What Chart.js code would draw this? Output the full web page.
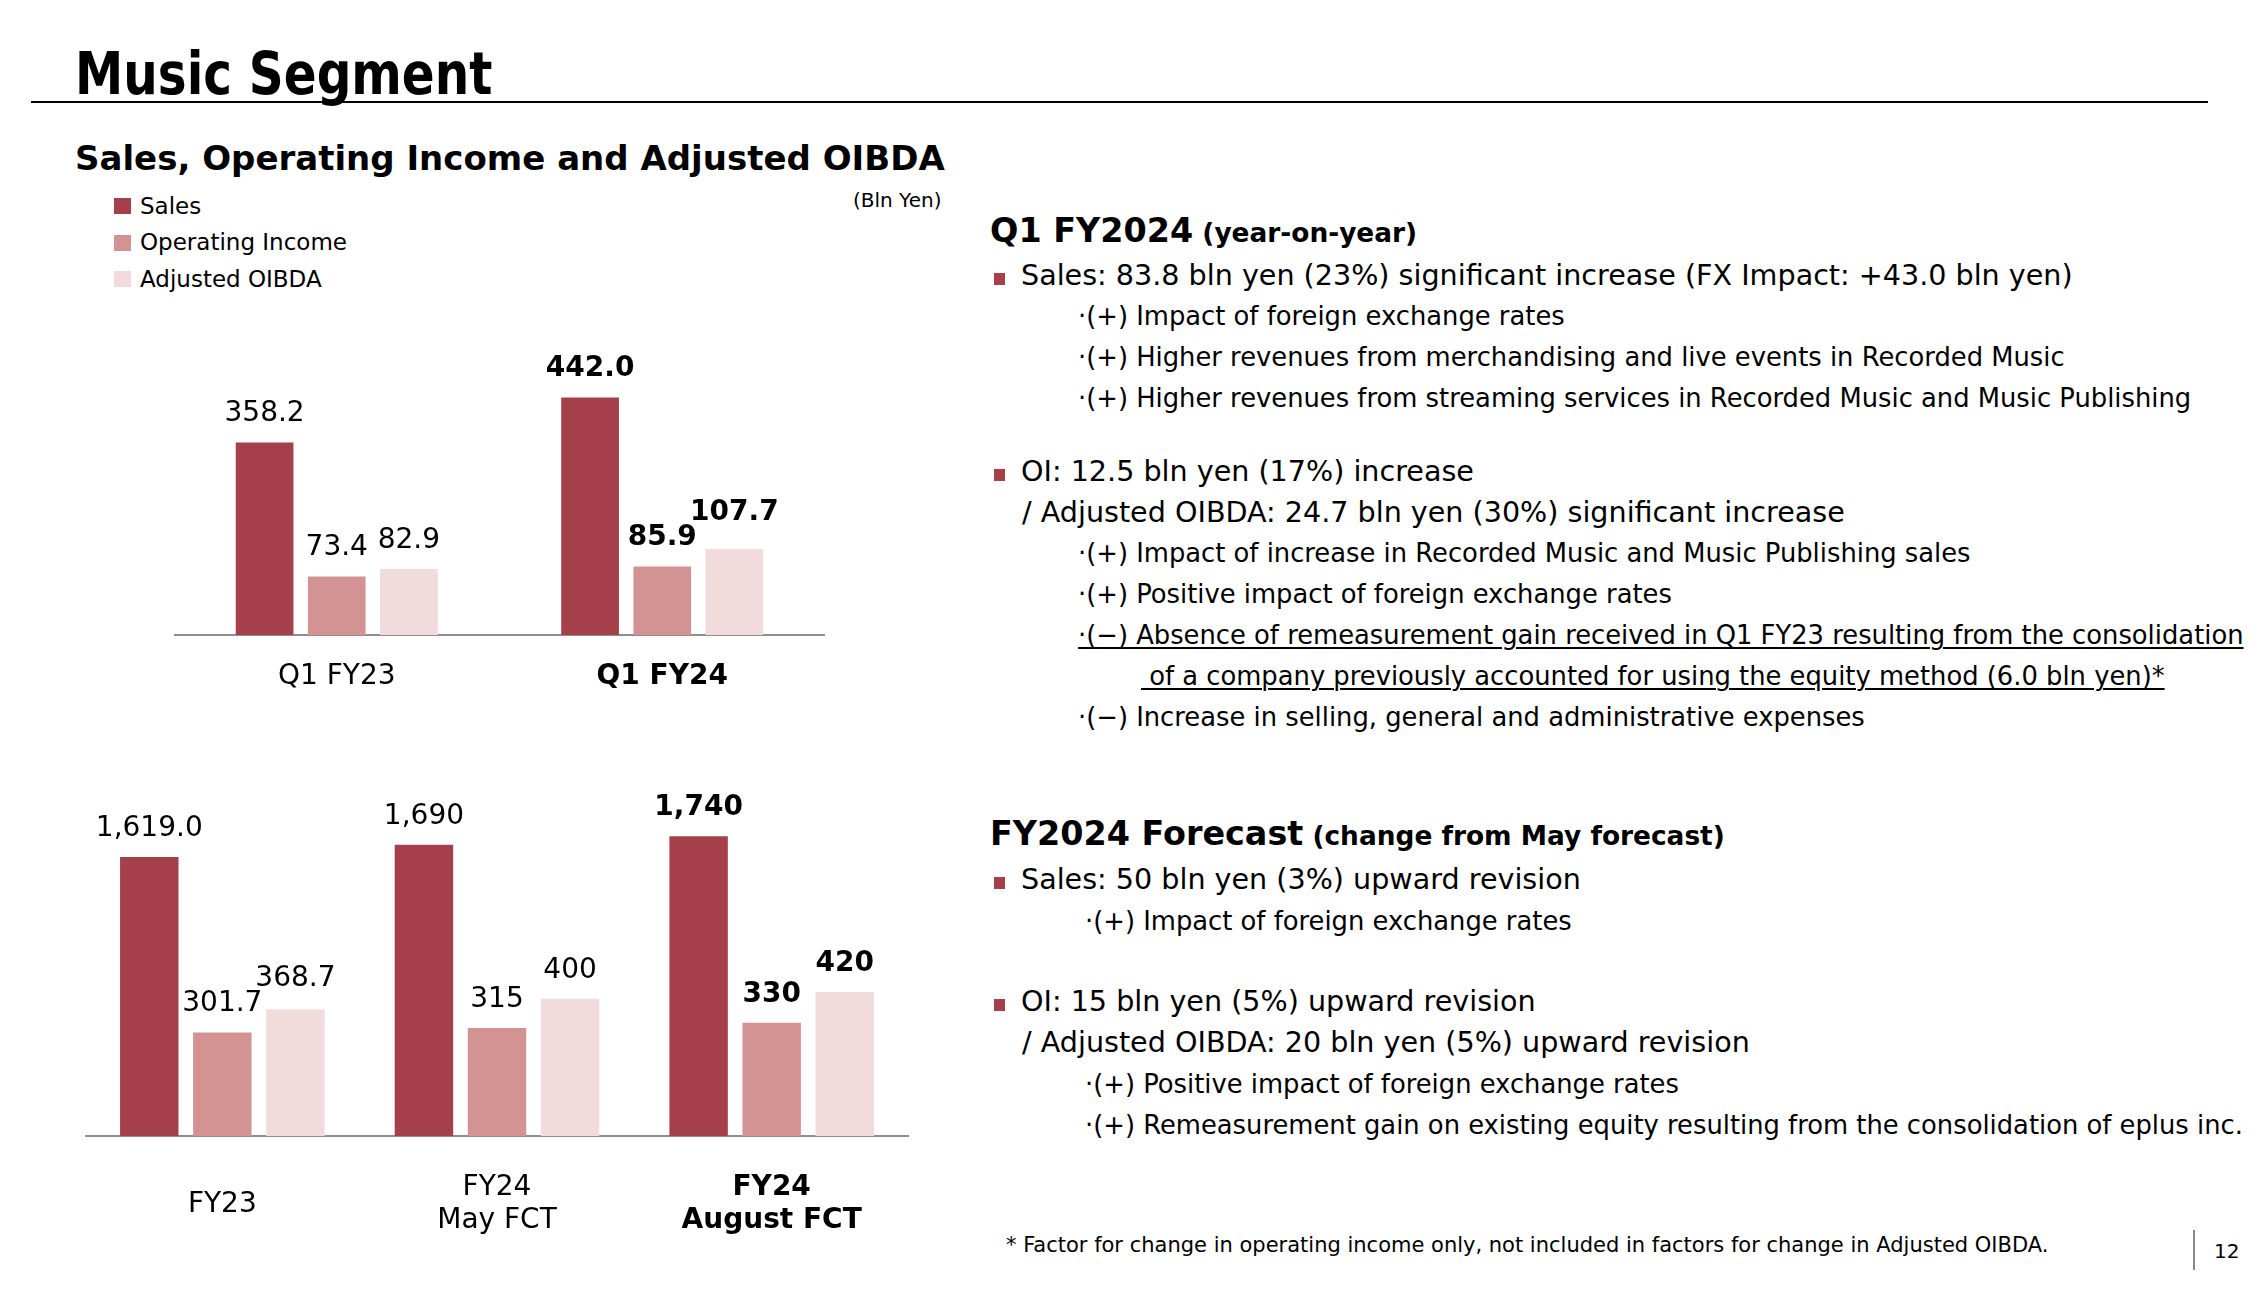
<!DOCTYPE html>
<html>
<head>
<meta charset="utf-8">
<script src="https://cdn.jsdelivr.net/npm/chart.js@4.4.0/dist/chart.umd.min.js"></script>
<style>
  html, body { margin: 0; padding: 0; background: #fff; }
  body { width: 2268px; height: 1292px; position: relative; overflow: hidden; font-family: "DejaVu Sans", sans-serif; color: #000; }
  .txt { position: absolute; white-space: pre; }
  .box { position: absolute; }
  .sq { position: absolute; }
</style>
</head>
<body>
<div class="box" id="box1" style="left:174px; top:320px; width:651px; height:420px;"><canvas id="quarterChart"></canvas></div>
<div class="box" id="box2" style="left:85px; top:760px; width:824px; height:506px;"><canvas id="yearChart"></canvas></div>
<script>
  // series
  const seriesNames = ["Sales", "Operating Income", "Adjusted OIBDA"];
  const seriesColors = ["#A5404A", "#D49393", "#F2DBDC"];

  // Q1 comparison (bln yen)
  const quarterLabels = ["Q1 FY23", "Q1 FY24"];
  const quarterSales = [358.2, 442.0];
  const quarterOI = [73.4, 85.9];
  const quarterOIBDA = [82.9, 107.7];

  // full year (bln yen)
  const yearLabels = ["FY23", ["FY24", "May FCT"], ["FY24", "August FCT"]];
  const yearSales = [1619.0, 1690, 1740];
  const yearOI = [301.7, 315, 330];
  const yearOIBDA = [368.7, 400, 420];
  const yearDecimals = [1, 0, 0];

  const FONT = '"DejaVu Sans", sans-serif';

  function put(html, x, base, size, extra) {
    const d = document.createElement("div");
    d.className = "txt";
    d.innerHTML = html;
    d.style.left = x + "px";
    d.style.top = (base - 0.846 * size) + "px";
    d.style.fontSize = size + "px";
    d.style.lineHeight = size + "px";
    if (extra) Object.assign(d.style, extra);
    document.body.appendChild(d);
    return d;
  }
  function block(x, y, w, h, color) {
    const d = document.createElement("div");
    d.className = "sq";
    Object.assign(d.style, { left: x + "px", top: y + "px", width: w + "px", height: h + "px", background: color });
    document.body.appendChild(d);
  }

  // header
  put("Music Segment", 75, 94, 58, {
    fontFamily: '"DejaVu Sans Condensed", "DejaVu Sans"', fontStretch: "condensed", fontWeight: "bold",
    transform: "scaleX(0.929)", transformOrigin: "0 0"
  });
  block(31, 101, 2177, 2, "#000");
  put("Sales, Operating Income and Adjusted OIBDA", 75, 170, 34, { fontWeight: "bold" });
  put("(Bln Yen)", 853, 207, 20);

  // legend
  seriesNames.forEach((name, i) => {
    const base = 214 + i * 36.5;
    block(114, base - 16, 17, 16, seriesColors[i]);
    put(name, 140, base, 23);
  });

  // right hand comments: h = heading, b = bullet, p = plain, s = sub point, u = underlined sub point
  const mainSize = 28.6;
  const subSize = 25.8;
  const lines = [
    ["h", 990, 242, "Q1 FY2024", " (year-on-year)"],
    ["b", 1021, 285, "Sales: 83.8 bln yen (23%) significant increase (FX Impact: +43.0 bln yen)"],
    ["s", 1078, 326, "·(+) Impact of foreign exchange rates"],
    ["s", 1078, 367, "·(+) Higher revenues from merchandising and live events in Recorded Music"],
    ["s", 1078, 408, "·(+) Higher revenues from streaming services in Recorded Music and Music Publishing"],
    ["b", 1021, 481, "OI: 12.5 bln yen (17%) increase"],
    ["p", 1022, 522, "/ Adjusted OIBDA: 24.7 bln yen (30%) significant increase"],
    ["s", 1078, 563, "·(+) Impact of increase in Recorded Music and Music Publishing sales"],
    ["s", 1078, 604, "·(+) Positive impact of foreign exchange rates"],
    ["u", 1078, 645, "·(−) Absence of remeasurement gain received in Q1 FY23 resulting from the consolidation"],
    ["u", 1141, 686, " of a company previously accounted for using the equity method (6.0 bln yen)*"],
    ["s", 1078, 727, "·(−) Increase in selling, general and administrative expenses"],
    ["h", 990, 845, "FY2024 Forecast", " (change from May forecast)"],
    ["b", 1021, 889, "Sales: 50 bln yen (3%) upward revision"],
    ["s", 1085, 931, "·(+) Impact of foreign exchange rates"],
    ["b", 1021, 1011, "OI: 15 bln yen (5%) upward revision"],
    ["p", 1022, 1052, "/ Adjusted OIBDA: 20 bln yen (5%) upward revision"],
    ["s", 1085, 1094, "·(+) Positive impact of foreign exchange rates"],
    ["s", 1085, 1135, "·(+) Remeasurement gain on existing equity resulting from the consolidation of eplus inc."]
  ];
  lines.forEach(([kind, x, base, text, small]) => {
    if (kind === "h") {
      put(text + '<span style="font-size:26.4px">' + small + "</span>", x, base, 33.4, { fontWeight: "bold" });
      return;
    }
    const d = put(text, x, base, kind === "b" || kind === "p" ? mainSize : subSize);
    if (kind === "b") block(994, base - 12, 11, 12, seriesColors[0]);
    if (kind === "u") {
      d.style.textDecoration = "underline";
      d.style.textDecorationThickness = "2px";
      d.style.textUnderlineOffset = "3px";
    }
  });
  put("* Factor for change in operating income only, not included in factors for change in Adjusted OIBDA.", 1006, 1253, 21);
  block(2193, 1230, 2, 40, "#888");
  put("12", 2214, 1258, 20);

  // value labels drawn over the bars; a label that would collide with its
  // left neighbour in the same group is lifted just above it
  function valueLabels(format) {
    return {
      id: "valueLabels",
      afterDatasetsDraw(chart) {
        const { ctx } = chart;
        const last = chart.data.labels.length - 1;
        const textH = 21;
        ctx.save();
        ctx.textAlign = "center";
        ctx.textBaseline = "alphabetic";
        ctx.fillStyle = "#000";
        chart.data.labels.forEach((_, j) => {
          let prev = null;
          chart.data.datasets.forEach((ds, i) => {
            const bar = chart.getDatasetMeta(i).data[j];
            const text = format(ds.data[j], j);
            ctx.font = (j === last ? "bold " : "") + "28px " + FONT;
            const w = ctx.measureText(text).width;
            let y = bar.y - 21;
            if (prev && bar.x - w / 2 < prev.right && y > prev.top - 4 && y - textH < prev.base) {
              y = prev.top - 4;
            }
            ctx.fillText(text, bar.x, y);
            prev = { right: bar.x + w / 2, top: y - textH, base: y };
          });
        });
        ctx.restore();
      }
    };
  }

  function makeChart(id, labels, sales, oi, oibda, cfg) {
    const last = labels.length - 1;
    const sets = [sales, oi, oibda].map((data, i) => ({
      label: seriesNames[i],
      data,
      backgroundColor: seriesColors[i],
      yAxisID: i === 0 ? "y" : "y2",
      barPercentage: 0.8,
      categoryPercentage: cfg.catPct
    }));
    return new Chart(document.getElementById(id), {
      type: "bar",
      data: { labels, datasets: sets },
      options: {
        responsive: true,
        maintainAspectRatio: false,
        animation: false,
        layout: { padding: 0 },
        plugins: { legend: { display: false }, tooltip: { enabled: false } },
        scales: {
          x: {
            grid: { display: false },
            border: { display: true, color: "#8E8E8E", width: 2 },
            ticks: {
              color: "#000",
              padding: cfg.pad,
              maxRotation: 0,
              autoSkip: false,
              crossAlign: "center",
              font: c => ({ family: FONT, size: 28, lineHeight: cfg.lh, weight: c.index === last ? "bold" : "normal" })
            },
            afterFit(scale) { scale.height = cfg.axisH; }
          },
          y: { display: false, min: 0, max: cfg.salesMax },
          y2: { display: false, min: 0, max: cfg.otherMax }
        }
      },
      plugins: [valueLabels(cfg.format)]
    });
  }

  makeChart("quarterChart", quarterLabels, quarterSales, quarterOI, quarterOIBDA, {
    catPct: 0.665, pad: 34, lh: 1.2, axisH: 105, salesMax: 586, otherMax: 395,
    format: v => v.toFixed(1)
  });

  makeChart("yearChart", yearLabels, yearSales, yearOI, yearOIBDA, {
    catPct: 0.798, pad: 44, lh: 1.18, axisH: 130, salesMax: 2182, otherMax: 1096,
    format: (v, j) => v.toLocaleString("en-US", { minimumFractionDigits: yearDecimals[j], maximumFractionDigits: yearDecimals[j] })
  });
</script>
</body>
</html>
